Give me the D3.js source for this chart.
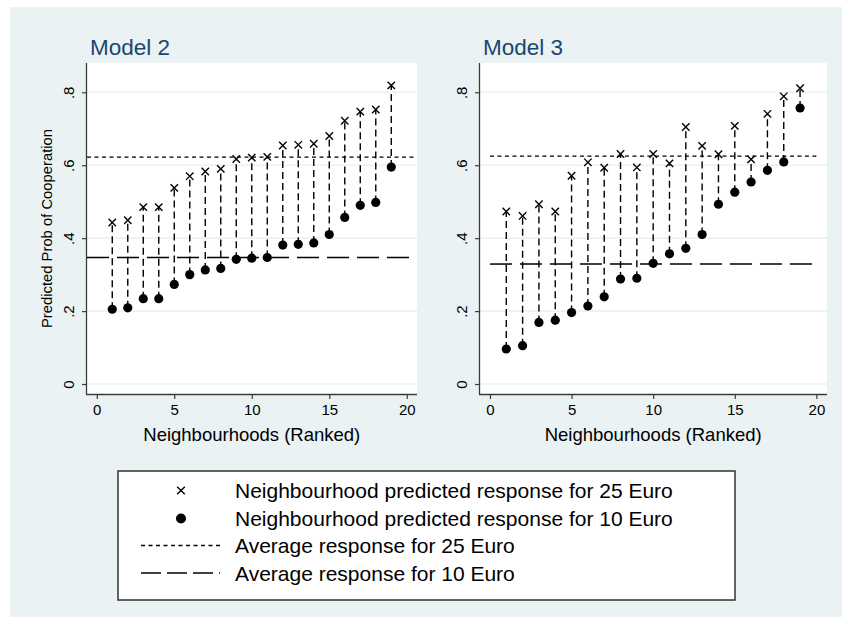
<!DOCTYPE html>
<html>
<head>
<meta charset="utf-8">
<script src="https://cdn.jsdelivr.net/npm/d3@7"></script>
<style>
  html, body { margin: 0; padding: 0; background: #ffffff; }
  svg { display: block; }
  text { font-family: "Liberation Sans", Arial, Helvetica, sans-serif; }
</style>
</head>
<body>
<svg id="chart" width="842" height="617"></svg>
<script>
// ---------------- data ----------------
const neighbourhoods = [1,2,3,4,5,6,7,8,9,10,11,12,13,14,15,16,17,18,19];

const model2Resp25 = [0.443,0.449,0.485,0.485,0.538,0.570,0.583,0.590,0.617,0.621,0.623,0.654,0.656,0.659,0.680,0.722,0.747,0.753,0.819];
const model2Resp10 = [0.205,0.209,0.234,0.234,0.273,0.300,0.313,0.317,0.342,0.345,0.347,0.381,0.383,0.387,0.410,0.457,0.490,0.498,0.595];
const model2Avg25 = 0.622;
const model2Avg10 = 0.347;

const model3Resp25 = [0.473,0.461,0.493,0.473,0.571,0.608,0.593,0.631,0.594,0.631,0.605,0.705,0.653,0.630,0.708,0.616,0.741,0.789,0.811];
const model3Resp10 = [0.096,0.105,0.169,0.175,0.196,0.214,0.239,0.288,0.290,0.331,0.357,0.372,0.410,0.493,0.526,0.554,0.586,0.609,0.757];
const model3Avg25 = 0.625;
const model3Avg10 = 0.329;

const xTicks = [0,5,10,15,20];
const yTicks = [0,0.2,0.4,0.6,0.8];
const yTickLabels = ["0",".2",".4",".6",".8"];

const panelTitles = ["Model 2","Model 3"];
const xAxisTitle = "Neighbourhoods (Ranked)";
const yAxisTitle = "Predicted Prob of Cooperation";
const legendLabels = [
  "Neighbourhood predicted response for 25 Euro",
  "Neighbourhood predicted response for 10 Euro",
  "Average response for 25 Euro",
  "Average response for 10 Euro"
];

// ---------------- layout ----------------
const svg = d3.select("#chart");
const BG = "#eaf2f3";
const TITLE_COL = "#1a476f";
const AXIS_COL = "#3c3c3c";

svg.append("rect").attr("x",10).attr("y",7).attr("width",832).attr("height",610).attr("fill",BG);

const panels = [
  { title: panelTitles[0], r25: model2Resp25, r10: model2Resp10, a25: model2Avg25, a10: model2Avg10,
    left: 87, right: 417, xdom: [-0.63, 20.66], lineSpan: "full", yTitle: true },
  { title: panelTitles[1], r25: model3Resp25, r10: model3Resp10, a25: model3Avg25, a10: model3Avg10,
    left: 480, right: 827, xdom: [-0.61, 20.65], lineSpan: "ticks", yTitle: false }
];
const plotTop = 63, plotBottom = 394;

panels.forEach(p => {
  const x = d3.scaleLinear().domain(p.xdom).range([p.left, p.right]);
  const y = d3.scaleLinear().domain([-0.0274, 0.8804]).range([plotBottom, plotTop]);
  const g = svg.append("g");

  // plot region
  g.append("rect").attr("x",p.left).attr("y",plotTop).attr("width",p.right-p.left).attr("height",plotBottom-plotTop).attr("fill","#ffffff");

  // gridlines
  g.selectAll("line.grid").data(yTicks).enter().append("line")
    .attr("x1",p.left).attr("x2",p.right)
    .attr("y1",d=>y(d)).attr("y2",d=>y(d))
    .attr("stroke",BG).attr("stroke-width",1.6);

  // y axis
  const yAxis = d3.axisLeft(y).tickValues(yTicks).tickSize(5).tickPadding(9)
    .tickFormat((d,i)=>yTickLabels[i]);
  const ya = g.append("g").attr("transform",`translate(${p.left},0)`).call(yAxis);
  ya.select(".domain").attr("stroke",AXIS_COL).attr("stroke-width",1.3).attr("d",`M-0.5,${plotBottom}V${plotTop}`);
  ya.selectAll(".tick line").attr("stroke",AXIS_COL).attr("stroke-width",1.2);
  ya.selectAll(".tick text")
    .attr("font-size",15).attr("fill","#000")
    .attr("text-anchor","middle")
    .attr("dy",null)
    .attr("x",0).attr("y",0)
    .attr("transform","translate(-13.5,0) rotate(-90)");

  // x axis
  const xAxis = d3.axisBottom(x).tickValues(xTicks).tickSize(5).tickPadding(6).tickFormat(d3.format("d"));
  const xa = g.append("g").attr("transform",`translate(0,${plotBottom})`).call(xAxis);
  xa.select(".domain").attr("stroke",AXIS_COL).attr("stroke-width",1.3).attr("d",`M${p.left-1},0.5H${p.right}`);
  xa.selectAll(".tick line").attr("stroke",AXIS_COL).attr("stroke-width",1.2);
  xa.selectAll(".tick text").attr("font-size",15).attr("fill","#000").attr("dy",null).attr("y",21);

  // titles
  g.append("text").attr("x",p.left+3).attr("y",55).attr("font-size",22.5).attr("fill",TITLE_COL).text(p.title);
  g.append("text").attr("x",(x(0)+x(20))/2).attr("y",441).attr("text-anchor","middle")
    .attr("font-size",18.5).attr("fill","#000").text(xAxisTitle);
  if (p.yTitle) {
    g.append("text").attr("transform",`translate(52,${(plotTop+plotBottom)/2}) rotate(-90)`)
      .attr("text-anchor","middle").attr("font-size",14.8).attr("fill","#000").text(yAxisTitle);
  }

  // average lines
  const xs = p.lineSpan === "full" ? p.xdom : [xTicks[0], xTicks[xTicks.length-1]];
  g.append("line").attr("x1",x(xs[0])).attr("x2",x(xs[1])).attr("y1",y(p.a25)).attr("y2",y(p.a25))
    .attr("stroke","#000").attr("stroke-width",1.3).attr("stroke-dasharray","4,3.5");
  g.append("line").attr("x1",x(xs[0])).attr("x2",x(xs[1])).attr("y1",y(p.a10)).attr("y2",y(p.a10))
    .attr("stroke","#000").attr("stroke-width",1.5).attr("stroke-dasharray","22,8");

  // drop lines
  const rows = neighbourhoods.map((n,i)=>({n, hi:p.r25[i], lo:p.r10[i]}));
  g.selectAll("line.drop").data(rows).enter().append("line")
    .attr("x1",d=>x(d.n)).attr("x2",d=>x(d.n))
    .attr("y1",d=>y(d.lo)).attr("y2",d=>y(d.hi))
    .attr("stroke","#000").attr("stroke-width",1.4).attr("stroke-dasharray","7,4");

  // dots
  g.selectAll("circle.dot").data(rows).enter().append("circle")
    .attr("cx",d=>x(d.n)).attr("cy",d=>y(d.lo)).attr("r",4.6).attr("fill","#000");

  // crosses
  const s = 3.7;
  g.selectAll("path.cross").data(rows).enter().append("path")
    .attr("d",d=>{const cx=x(d.n), cy=y(d.hi);
      return `M${cx-s},${cy-s}L${cx+s},${cy+s}M${cx-s},${cy+s}L${cx+s},${cy-s}`;})
    .attr("stroke","#000").attr("stroke-width",1.4).attr("fill","none");
});

// ---------------- legend ----------------
const lg = svg.append("g");
const L = {left:118, right:735, top:471, bottom:600};
lg.append("rect").attr("x",L.left).attr("y",L.top).attr("width",L.right-L.left).attr("height",L.bottom-L.top)
  .attr("fill","#fff").attr("stroke","#333").attr("stroke-width",1.5);
const keyX0 = 141, keyX1 = 220, keyC = 181, textX = 235;
const baselines = [497.5, 525.5, 553, 581];
legendLabels.forEach((lab,i)=>{
  lg.append("text").attr("x",textX).attr("y",baselines[i]).attr("font-size",21).attr("fill","#000").text(lab);
});
const cy0 = baselines[0]-7, cy1 = baselines[1]-7, cy2 = baselines[2]-7.5, cy3 = baselines[3]-8;
const ls = 3.8;
lg.append("path").attr("d",`M${keyC-ls},${cy0-ls}L${keyC+ls},${cy0+ls}M${keyC-ls},${cy0+ls}L${keyC+ls},${cy0-ls}`)
  .attr("stroke","#000").attr("stroke-width",1.4);
lg.append("circle").attr("cx",keyC).attr("cy",cy1).attr("r",5).attr("fill","#000");
lg.append("line").attr("x1",keyX0).attr("x2",keyX1).attr("y1",cy2).attr("y2",cy2)
  .attr("stroke","#000").attr("stroke-width",1.3).attr("stroke-dasharray","4,3.5");
lg.append("line").attr("x1",keyX0).attr("x2",keyX1).attr("y1",cy3).attr("y2",cy3)
  .attr("stroke","#000").attr("stroke-width",1.5).attr("stroke-dasharray","20,6");
</script>
</body>
</html>
